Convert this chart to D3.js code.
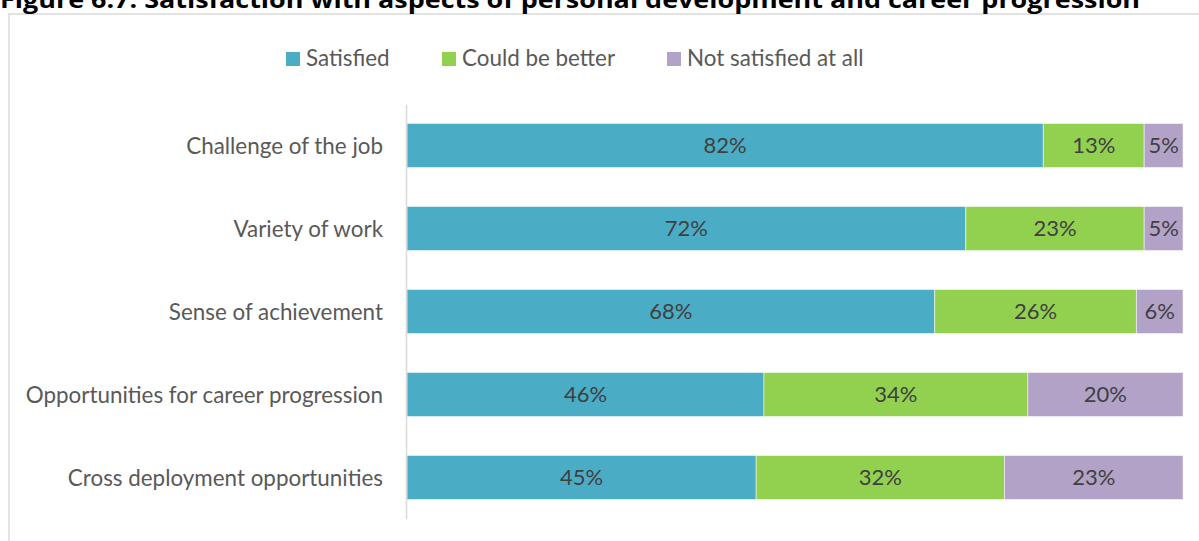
<!DOCTYPE html>
<html><head><meta charset="utf-8">
<script src="https://cdn.jsdelivr.net/npm/d3@7"></script>
<style>body{margin:0;background:#fff}svg{display:block}</style>
</head><body>
<svg id="c" width="1199" height="541"></svg>
<script>
const categories = ["Challenge of the job","Variety of work","Sense of achievement","Opportunities for career progression","Cross deployment opportunities"];
const seriesNames = ["Satisfied","Could be better","Not satisfied at all"];
const satisfied = [82,72,68,46,45];
const couldBeBetter = [13,23,26,34,32];
const notSatisfied = [5,5,6,20,23];
const colors = ["#4BACC6","#92D050","#B3A2C7"];
const title = "Figure 6.7: Satisfaction with aspects of personal development and career progression";

const font = "Lato, 'Open Sans', sans-serif";
const svg = d3.select("#c");
svg.append("rect").attr("x",9).attr("y",14).attr("width",1300).attr("height",600)
  .attr("fill","#fff").attr("stroke","#d9d9d9").attr("stroke-width",1.5);

svg.append("text").attr("x",0).attr("y",8).attr("font-family","'Open Sans', sans-serif").attr("font-weight","bold")
  .attr("font-size",24).attr("fill","#000").attr("textLength",1140).attr("lengthAdjust","spacingAndGlyphs").text(title);

const rows = categories.map((c,i)=>({cat:c, vals:[satisfied[i],couldBeBetter[i],notSatisfied[i]]}));
const x = d3.scaleLinear().domain([0,100]).range([407,1183]);
const y = d3.scaleBand().domain(categories).range([104,519]).paddingInner(0.47).paddingOuter(0.235);

const g = svg.append("g");
rows.forEach(r=>{
  let cum=0;
  r.vals.forEach((v,k)=>{
    const x0=x(cum), x1=x(cum+v);
    g.append("rect").attr("x",x0).attr("y",y(r.cat)).attr("width",x1-x0).attr("height",y.bandwidth())
      .attr("fill",colors[k]).attr("stroke","#fff").attr("stroke-opacity",0.5).attr("stroke-width",1);
    g.append("text").attr("x",(x0+x1)/2).attr("y",y(r.cat)+y.bandwidth()/2).attr("dy","0.36em")
      .attr("text-anchor","middle").attr("font-family",font).attr("font-size",22).attr("fill","#404040")
      .text(v+"%");
    cum+=v;
  });
});

const yAxis = d3.axisLeft(y).tickSize(0).tickPadding(23);
const ag = svg.append("g").attr("transform","translate(406,0)").call(yAxis);
ag.select(".domain").attr("stroke","#d9d9d9").attr("stroke-width",1.5);
ag.selectAll("text").attr("font-family",font).attr("font-size",22.4).attr("fill","#595959").attr("dy","0.36em");

// legend
const legX = [286,442,667];
seriesNames.forEach((s,k)=>{
  svg.append("rect").attr("x",legX[k]).attr("y",52).attr("width",14).attr("height",14).attr("fill",colors[k]);
  svg.append("text").attr("x",legX[k]+20).attr("y",66).attr("font-family",font)
    .attr("font-size",22.4).attr("fill","#595959").text(s);
});
</script>
</body></html>
